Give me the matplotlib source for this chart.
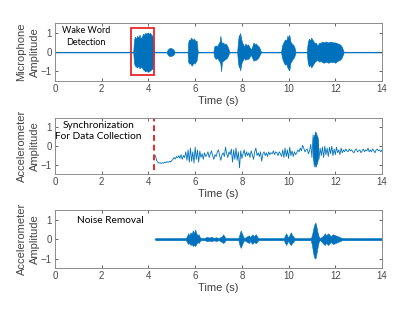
import numpy as np
import matplotlib.pyplot as plt

BLUE = "#0072BD"
RED = "#e8262a"

# microphone envelope: time (s), upper and lower amplitude
mic_t = [0.0, 3.35,
         3.38, 3.42, 3.47, 3.52, 3.57, 3.62, 3.67, 3.72, 3.77, 3.82, 3.87, 3.92, 3.97, 4.02, 4.07, 4.12, 4.17, 4.21, 4.23,
         4.78, 4.82, 4.88, 4.95, 5.02, 5.08, 5.12,
         5.68, 5.7, 5.74, 5.78, 5.82, 5.86, 5.9, 5.94, 5.98, 6.02, 6.06, 6.09, 6.11,
         6.78, 6.82, 6.88, 6.94, 7.0, 7.05, 7.08, 7.11, 7.15, 7.2, 7.25, 7.3, 7.36, 7.42, 7.46,
         7.8, 7.83, 7.87, 7.9, 7.93, 7.97, 8.0, 8.05, 8.1, 8.15, 8.2, 8.27, 8.33, 8.4, 8.46, 8.5, 8.55, 8.6, 8.66, 8.72, 8.78, 8.82,
         9.68, 9.72, 9.78, 9.84, 9.9, 9.95, 10.0, 10.03, 10.08, 10.13, 10.18, 10.24, 10.3,
         10.78, 10.82, 10.87, 10.92, 10.97, 11.02, 11.07, 11.12, 11.17, 11.22, 11.27, 11.32, 11.37, 11.42, 11.5, 11.6, 11.7,
         11.8, 11.9, 12.0, 12.1, 12.2, 12.27, 12.32, 12.36,
         14.0]
mic_up = [0.02, 0.02,
          0.6, 0.8, 0.7, 0.85, 0.75, 0.9, 0.7, 0.8, 0.95, 0.9, 1.0, 0.95, 1.02, 0.95, 1.0, 0.9, 0.85, 0.5, 0.02,
          0.02, 0.12, 0.2, 0.22, 0.18, 0.12, 0.02,
          0.02, 0.5, 0.65, 0.6, 0.75, 0.7, 0.62, 0.7, 0.65, 0.55, 0.6, 0.3, 0.02,
          0.02, 0.3, 0.35, 0.3, 0.45, 0.55, 0.85, 0.6, 0.45, 0.5, 0.4, 0.45, 0.35, 0.2, 0.02,
          0.02, 0.5, 0.9, 0.75, 1.0, 0.7, 0.55, 0.4, 0.3, 0.45, 0.35, 0.4, 0.25, 0.15, 0.35, 0.5, 0.4, 0.45, 0.35, 0.3, 0.15, 0.02,
          0.02, 0.35, 0.5, 0.65, 0.6, 0.85, 0.75, 0.9, 0.55, 0.45, 0.4, 0.3, 0.02,
          0.02, 0.5, 0.7, 0.6, 0.75, 0.65, 0.55, 0.45, 0.5, 0.35, 0.4, 0.5, 0.45, 0.55, 0.5, 0.55, 0.5,
          0.55, 0.5, 0.5, 0.45, 0.4, 0.3, 0.15, 0.02,
          0.02]
mic_lo = [-0.02, -0.02,
          -0.55, -0.7, -0.75, -0.8, -0.7, -0.85, -0.75, -0.8, -0.9, -0.95, -1.0, -0.95, -1.02, -1.0, -0.95, -0.9, -0.85, -0.5, -0.02,
          -0.02, -0.12, -0.2, -0.2, -0.18, -0.12, -0.02,
          -0.02, -0.5, -0.6, -0.55, -0.65, -0.7, -0.6, -0.55, -0.6, -0.5, -0.45, -0.2, -0.02,
          -0.02, -0.25, -0.35, -0.3, -0.4, -0.5, -0.6, -1.0, -0.5, -0.45, -0.4, -0.35, -0.3, -0.15, -0.02,
          -0.02, -0.5, -0.8, -0.7, -0.95, -0.65, -0.5, -0.4, -0.3, -0.4, -0.35, -0.35, -0.25, -0.15, -0.35, -0.45, -0.4, -0.4, -0.35, -0.25, -0.1, -0.02,
          -0.02, -0.3, -0.5, -0.65, -0.6, -0.8, -0.9, -0.95, -0.55, -0.45, -0.35, -0.25, -0.02,
          -0.02, -0.55, -0.75, -0.65, -0.8, -0.7, -0.6, -0.5, -0.45, -0.4, -0.45, -0.5, -0.45, -0.5, -0.55, -0.5, -0.55,
          -0.5, -0.5, -0.55, -0.45, -0.4, -0.3, -0.15, -0.02,
          -0.02]

# raw accelerometer trace, one value every 0.05 s from 4.30 s
acc_start = 4.3
acc_step = 0.05
acc_vals = [
    -0.5, -0.75, -0.85, -0.9, -0.88, -0.92, -0.87, -0.9, -0.85, -0.88,
    -0.82, -0.86, -0.8, -0.84, -0.76, -0.7, -0.6, -0.68, -0.55, -0.62,
    -0.5, -0.65, -0.45, -0.7, -0.5, -0.6, -0.3, -0.75, -0.2, -0.85,
    -0.1, -0.8, -0.3, -0.9, -0.05, -0.7, -0.2, -0.85, -0.25, -0.6,
    -0.4, -0.7, -0.35, -0.55, -0.45, -0.3, -0.6, -0.4, -0.25, -0.5,
    -0.7, -0.45, -0.55, -0.3, -0.2, -0.5, -0.75, -0.45, -0.35, -0.55,
    -0.05, -0.4, -0.6, -0.3, -0.45, -0.15, -0.85, -0.2, -0.7, -0.1,
    -0.75, -0.3, -1.15, -0.25, -0.65, -0.4, -0.2, -0.55, -0.3, -0.5,
    -0.35, -0.6, -0.25, -0.45, -0.7, -0.3, -0.1, -0.5, -0.35, -0.55,
    -0.3, -0.8, -0.4, -0.3, -0.5, -0.35, -0.55, -0.3, -0.45, -0.35,
    -0.4, -0.25, -0.45, -0.3, -0.35, -0.5, -0.3, -0.4, -0.55, -0.2,
    -0.6, -0.1, -0.55, -0.2, -0.65, -0.05, -0.5, -0.25, -0.55, -0.3,
    -0.45, -0.35, -0.2, -0.3, -0.1, -0.25, 0.05, -0.1, -0.3, -0.2,
    -0.15, -0.4, -0.25, 0.1, -0.6, 0.6, -1.1, 0.75, -0.9, 0.4,
    -0.7, -0.1, -0.5, -0.05, -0.6, 0.0, -0.45, -0.1, -0.55, -0.05,
    -0.4, 0.0, -0.5, -0.15, -0.45, -0.05, -0.35, -0.2, -0.45, -0.1,
    -0.35, -0.2, -0.3, -0.15, -0.25, -0.3, -0.15, -0.25, -0.2, -0.3,
    -0.35, -0.2, -0.15, -0.3, -0.25, -0.2, -0.35, -0.25, -0.15, -0.3,
    -0.2, -0.25, -0.1, -0.3, -0.2, -0.3, -0.15, -0.25, -0.35, -0.2,
    -0.15, -0.25, -0.2, -0.3, -0.2]
# the tapping burst near 11.1 s
tap_t = [11.04, 11.08, 11.12, 11.16, 11.2, 11.24, 11.27]
tap_up = [0.3, 0.6, 0.55, 0.75, 0.6, 0.5, 0.1]
tap_lo = [-0.6, -0.9, -1.0, -1.1, -0.95, -0.8, -0.4]

# filtered accelerometer envelope
den_t = [4.3, 5.6, 5.65, 5.7, 5.75, 5.8, 5.85, 5.9, 5.95, 6.0, 6.05, 6.1, 6.15, 6.2, 6.25,
         6.4, 6.5, 6.6, 6.7, 6.8, 6.9, 7.0, 7.15, 7.2, 7.25, 7.3,
         7.85, 7.9, 7.95, 8.0, 8.05, 8.1, 8.3, 8.35, 8.45, 8.5, 8.6, 8.65, 8.7,
         9.8, 9.85, 9.9, 9.95, 10.0, 10.05, 10.1, 10.15, 10.2, 10.25,
         10.95, 11.0, 11.05, 11.1, 11.15, 11.2, 11.25, 11.3, 11.35, 11.5, 11.55, 11.6, 11.7, 11.8,
         11.9, 12.0, 12.1, 12.2, 12.3, 14.0]
den_up = [0.05, 0.05, 0.15, 0.3, 0.2, 0.35, 0.25, 0.45, 0.3, 0.5, 0.3, 0.2, 0.25, 0.1, 0.05,
          0.05, 0.12, 0.08, 0.12, 0.06, 0.1, 0.05, 0.15, 0.25, 0.15, 0.05,
          0.05, 0.25, 0.45, 0.3, 0.15, 0.05, 0.2, 0.1, 0.25, 0.15, 0.25, 0.15, 0.05,
          0.05, 0.2, 0.3, 0.15, 0.1, 0.25, 0.35, 0.2, 0.15, 0.05,
          0.05, 0.2, 0.5, 0.75, 0.85, 0.6, 0.3, 0.1, 0.05, 0.2, 0.3, 0.2, 0.3, 0.15,
          0.25, 0.2, 0.15, 0.1, 0.05, 0.05]
den_lo = [-0.05, -0.05, -0.15, -0.25, -0.2, -0.3, -0.25, -0.35, -0.3, -0.35, -0.25, -0.15, -0.2, -0.1, -0.05,
          -0.05, -0.1, -0.08, -0.1, -0.06, -0.1, -0.05, -0.15, -0.2, -0.15, -0.05,
          -0.05, -0.3, -0.45, -0.3, -0.15, -0.05, -0.2, -0.1, -0.25, -0.15, -0.2, -0.15, -0.05,
          -0.05, -0.2, -0.3, -0.15, -0.1, -0.25, -0.3, -0.2, -0.15, -0.05,
          -0.05, -0.3, -0.7, -0.95, -1.0, -0.7, -0.35, -0.1, -0.05, -0.25, -0.3, -0.2, -0.3, -0.15,
          -0.25, -0.2, -0.15, -0.1, -0.05, -0.05]

xticks = [0, 2, 4, 6, 8, 10, 12, 14]
yticks = [-1, 0, 1]
sync_t = 4.25

plt.rcParams['font.family'] = ['Liberation Sans', 'DejaVu Sans']

fig = plt.figure(figsize=(4.15, 3.12), dpi=100)
left, width = 0.1325, 0.788
ax1 = fig.add_axes([left, 0.740, width, 0.186])
ax2 = fig.add_axes([left, 0.441, width, 0.181])
ax3 = fig.add_axes([left, 0.140, width, 0.187])

for ax, lab in [(ax1, "Microphone\nAmplitude"), (ax2, "Accelerometer\nAmplitude"),
                (ax3, "Accelerometer\nAmplitude")]:
    ax.set_xlim(0, 14)
    ax.set_ylim(-1.5, 1.5)
    ax.set_xticks(xticks)
    ax.set_yticks(yticks)
    ax.tick_params(direction='in', top=True, right=True, labelsize=7,
                   colors='#4a4a4a', length=2.5, width=0.6, pad=2.2)
    for s in ax.spines.values():
        s.set_color('#8c8c8c')
        s.set_linewidth(0.7)
    ax.set_xlabel("Time (s)", fontsize=8, color='#404040', labelpad=1)
    ax.set_ylabel(lab, fontsize=8, color='#454545', labelpad=0.5, linespacing=1.45)

# microphone
ax1.plot([0, 14], [0, 0], color=BLUE, lw=0.5, alpha=0.6)
ax1.fill_between(mic_t, mic_lo, mic_up, color=BLUE, lw=0.4)
ax1.add_patch(plt.Rectangle((3.25, -1.2), 1.0, 2.44, fill=False, ec=RED, lw=1.3))
ax1.text(1.33, 0.8, "Wake Word\nDetection", fontsize=6.5, family='Lato',
         ha='center', va='center', linespacing=1.4)

# raw accelerometer
acc_t = acc_start + acc_step * np.arange(len(acc_vals))
ax2.plot(acc_t, acc_vals, color=BLUE, lw=0.6)
ax2.fill_between(tap_t, tap_lo, tap_up, color=BLUE, lw=0.4)
ax2.plot([sync_t, sync_t], [-1.25, 1.5], color=RED, lw=1.4, ls=(0, (3, 2)))
ax2.text(1.85, 0.8, "Synchronization\nFor Data Collection", fontsize=7.3, family='Lato',
         ha='center', va='center', linespacing=1.35)

# filtered accelerometer
ax3.plot([4.3, 14], [0, 0], color=BLUE, lw=1.0)
ax3.fill_between(den_t, den_lo, den_up, color=BLUE, lw=0.4)
ax3.text(0.93, 0.95, "Noise Removal", fontsize=7.3, family='Lato', ha='left', va='center')

fig.savefig("out.png", dpi=100)
